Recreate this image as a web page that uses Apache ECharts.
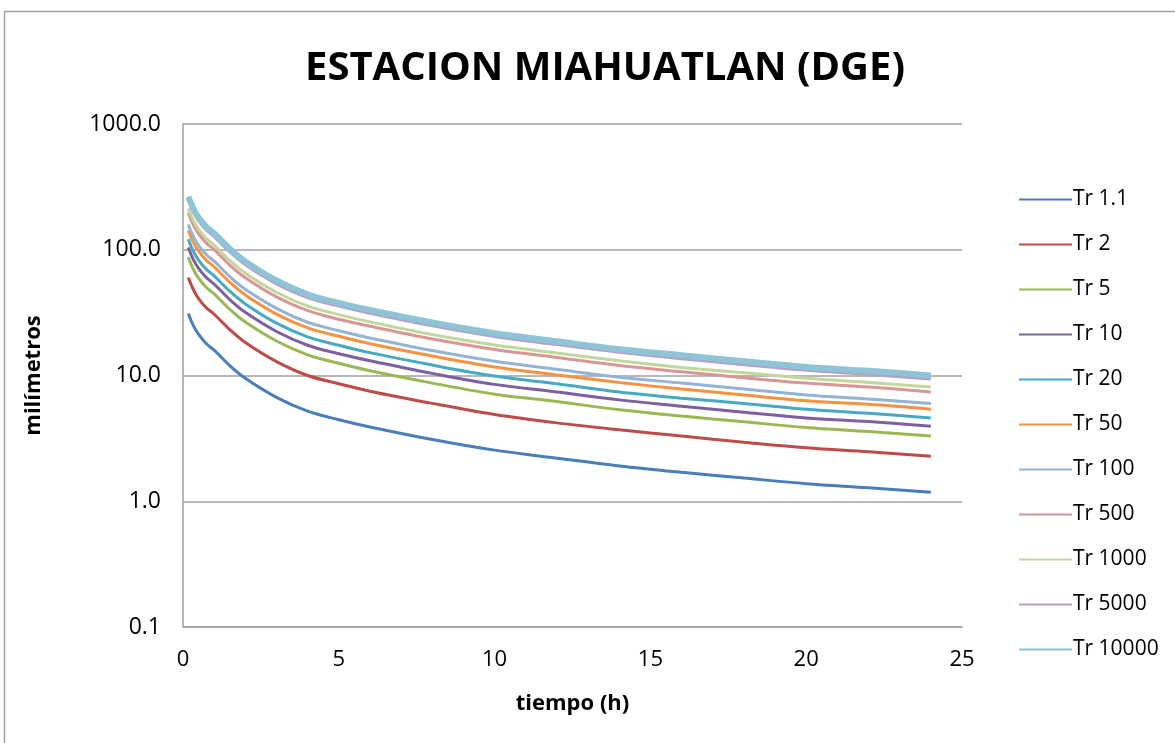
<!DOCTYPE html>
<html>
<head>
<meta charset="utf-8">
<script src="https://cdn.jsdelivr.net/npm/echarts@6/dist/echarts.min.js"></script>
<style>
html,body{margin:0;padding:0;background:#fff;}
#chart{width:1175px;height:743px;}
</style>
</head>
<body>
<div id="chart"></div>
<script>
const hours = [0.17, 0.33, 0.5, 0.75, 1, 1.5, 2, 3, 4, 5, 6, 8, 10, 12, 14, 16, 18, 20, 22, 24];
const tr1_1   = [31.1, 25.0, 21.2, 17.9, 15.9, 12.0, 9.5, 6.7, 5.2, 4.45, 3.9, 3.1, 2.55, 2.2, 1.91, 1.7, 1.53, 1.38, 1.28, 1.18];
const tr2     = [60.0, 48.3, 40.9, 34.5, 30.7, 23.2, 18.3, 12.9, 10.0, 8.6, 7.5, 6.0, 4.9, 4.2, 3.7, 3.3, 2.95, 2.66, 2.47, 2.28];
const tr5     = [87.1, 70.0, 59.4, 50.1, 44.5, 33.6, 26.6, 18.8, 14.6, 12.5, 10.9, 8.7, 7.1, 6.2, 5.35, 4.76, 4.28, 3.86, 3.58, 3.30];
const tr10    = [104.2, 83.8, 71.0, 60.0, 53.3, 40.2, 31.8, 22.4, 17.4, 14.9, 13.1, 10.4, 8.5, 7.4, 6.4, 5.7, 5.1, 4.6, 4.3, 3.95];
const tr20    = [121.3, 97.5, 82.7, 69.8, 62.0, 46.8, 37.1, 26.1, 20.3, 17.4, 15.2, 12.1, 9.9, 8.6, 7.4, 6.6, 6.0, 5.4, 5.0, 4.6];
const tr50    = [143.1, 115.0, 97.5, 82.3, 73.1, 55.2, 43.7, 30.8, 23.9, 20.5, 17.9, 14.3, 11.7, 10.1, 8.8, 7.8, 7.0, 6.3, 5.9, 5.4];
const tr100   = [158.6, 127.5, 108.1, 91.3, 81.1, 61.2, 48.5, 34.2, 26.5, 22.7, 19.9, 15.8, 13.0, 11.2, 9.7, 8.7, 7.8, 7.0, 6.5, 6.0];
const tr500   = [195.9, 157.5, 133.6, 112.8, 100.2, 75.6, 59.9, 42.2, 32.8, 28.0, 24.6, 19.5, 16.1, 13.9, 12.0, 10.7, 9.6, 8.7, 8.1, 7.4];
const tr1000  = [213.0, 171.3, 145.2, 122.6, 108.9, 82.2, 65.1, 45.9, 35.6, 30.5, 26.7, 21.2, 17.5, 15.1, 13.1, 11.6, 10.5, 9.5, 8.8, 8.1];
const tr5000  = [248.8, 200.0, 169.6, 143.2, 127.2, 96.0, 76.0, 53.6, 41.6, 35.6, 31.2, 24.8, 20.4, 17.6, 15.3, 13.6, 12.2, 11.0, 10.2, 9.4];
const tr10000 = [264.4, 212.5, 180.2, 152.2, 135.2, 102.0, 80.8, 57.0, 44.2, 37.8, 33.2, 26.4, 21.7, 18.7, 16.2, 14.5, 13.0, 11.7, 10.9, 10.0];

const seriesNames = ['Tr 1.1', 'Tr 2', 'Tr 5', 'Tr 10', 'Tr 20', 'Tr 50', 'Tr 100', 'Tr 500', 'Tr 1000', 'Tr 5000', 'Tr 10000'];
const seriesData = [tr1_1, tr2, tr5, tr10, tr20, tr50, tr100, tr500, tr1000, tr5000, tr10000];
const colors = ['#4A7EBB', '#BE4B48', '#98B954', '#7D60A0', '#46AAC5', '#F69240', '#95B3D7', '#D99694', '#C3D69B', '#B3A2C7', '#8EC4D6'];
const widths = [3, 3, 3, 3, 3, 3, 3, 3, 3, 3, 6];

const chart = echarts.init(document.getElementById('chart'));
const FONT = 'Open Sans';

const series = seriesNames.map((name, i) => ({
  name: name,
  type: 'line',
  data: hours.map((h, j) => [h, seriesData[i][j]]),
  symbol: 'none',
  smooth: 0.35,
  lineStyle: { color: colors[i], width: widths[i] },
  itemStyle: { color: colors[i] },
  emphasis: { disabled: true },
  z: 2 + i
}));

chart.setOption({
  animation: false,
  backgroundColor: '#fff',
  title: {
    text: 'ESTACION MIAHUATLAN (DGE)',
    left: 600,
    top: 44,
    textAlign: 'center',
    textStyle: { fontFamily: FONT, fontWeight: 'bold', fontSize: 40, color: '#000' }
  },
  graphic: [{
    type: 'rect',
    shape: { x: 4.5, y: 11.5, width: 1200, height: 800 },
    style: { fill: 'none', stroke: '#A0A0A0', lineWidth: 1.5 },
    silent: true
  }],
  legend: {
    orient: 'vertical',
    left: 1013,
    top: 184,
    itemWidth: 53,
    itemHeight: 14,
    itemGap: 24,
    itemStyle: { opacity: 0 },
    textStyle: { fontFamily: FONT, fontSize: 21, color: '#000', padding: [0, 0, 0, -4] },
    data: seriesNames
  },
  grid: { left: 183, right: 213, top: 124, bottom: 116 },
  xAxis: {
    type: 'value',
    min: 0, max: 25, interval: 5,
    name: 'tiempo (h)',
    nameLocation: 'middle',
    nameGap: 66,
    nameTextStyle: { fontFamily: FONT, fontWeight: 'bold', fontSize: 22, color: '#000' },
    axisLine: { show: true, lineStyle: { color: '#A0A0A0', width: 1.5 } },
    axisTick: { show: false },
    splitLine: { show: false },
    axisLabel: { fontFamily: FONT, fontSize: 22, color: '#000', margin: 22 }
  },
  yAxis: {
    type: 'log',
    logBase: 10,
    min: 0.1, max: 1000,
    name: 'milímetros',
    nameLocation: 'middle',
    nameGap: 138,
    nameRotate: 90,
    nameTextStyle: { fontFamily: FONT, fontWeight: 'bold', fontSize: 22, color: '#000' },
    axisLine: { show: true, lineStyle: { color: '#A0A0A0', width: 1.5 } },
    axisTick: { show: false },
    splitLine: { show: true, lineStyle: { color: '#A0A0A0', width: 1.5 } },
    axisLabel: { fontFamily: FONT, fontSize: 23, color: '#000', margin: 22, formatter: v => Number(v).toFixed(1) }
  },
  series: series
});
</script>
</body>
</html>
